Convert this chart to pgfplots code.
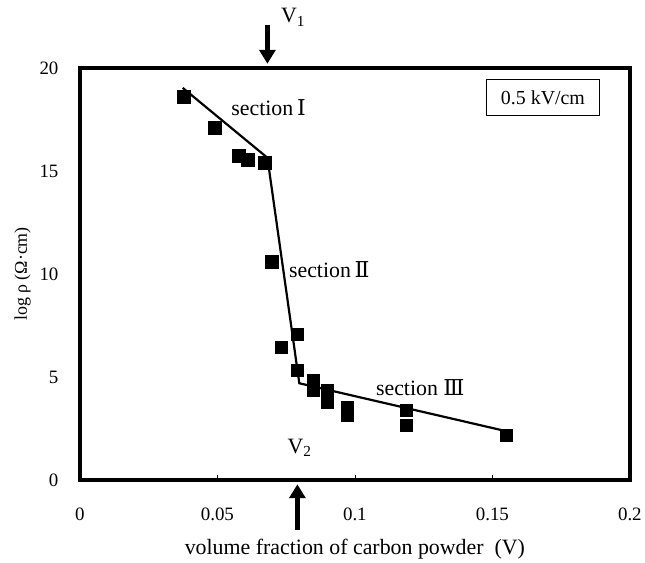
\documentclass[border=0pt]{standalone}
\usepackage{fontspec}
\setmainfont{Liberation Serif}
\newfontfamily\romfont{DejaVu Serif}
\usepackage{pgfplots}
\pgfplotsset{compat=1.18}
\usetikzlibrary{arrows.meta}
\begin{document}
\begin{tikzpicture}
\begin{axis}[
  scale only axis,
  width=551bp, height=413bp,
  xmin=0, xmax=0.2, ymin=0, ymax=20,
  xtick={0,0.05,0.1,0.15,0.2},
  xticklabels={0,0.05,0.1,0.15,0.2},
  ytick={0,5,10,15,20},
  axis line style={line width=3.5pt},
  tick align=inside,
  x tick style={line width=0.6pt, black},
  major tick length=5pt,
  y tick style={draw=none},
  xtick pos=bottom, ytick pos=left,
  tick label style={font=\fontsize{19}{21}\selectfont},
  /pgf/number format/assume math mode=true,
  xticklabel style={yshift=-24pt},
  yticklabel style={xshift=-18pt},
  xlabel={volume fraction of carbon powder\ \ (V)},
  ylabel={log ρ (Ω·cm)},
  xlabel style={font=\fontsize{22}{24}\selectfont, yshift=-12pt},
  ylabel style={font=\fontsize{18}{20}\selectfont, yshift=2pt},
  clip=false,
]
\addplot[black, line width=2.2pt] coordinates {
  (0.0374,19.03) (0.0682,15.64) (0.0798,4.7) (0.1568,2.32)
};
\addplot[only marks, mark=square*, mark size=6.2bp, black] coordinates {
  (0.0377,18.6) (0.049,17.1) (0.0578,15.74) (0.061,15.54) (0.0672,15.4)
  (0.0697,10.6) (0.0791,7.07) (0.0733,6.44) (0.0791,5.33)
  (0.0849,4.84) (0.0849,4.36) (0.09,4.36) (0.09,3.78)
  (0.0973,3.53) (0.0973,3.15) (0.1187,3.39) (0.1187,2.66)
  (0.155,2.18)
};
\draw[-{Triangle[width=16pt,length=14pt]}, line width=5.5pt] (axis cs:0.0682,22.1) -- (axis cs:0.0682,20.2);
\node at (axis cs:0.0775,22.45) {\fontsize{22}{24}\selectfont V\textsubscript{1}};
\draw[-{Triangle[width=16pt,length=14pt]}, line width=5.5pt] (axis cs:0.0791,-2.4) -- (axis cs:0.0791,-0.2);
\node at (axis cs:0.0799,1.55) {\fontsize{22}{24}\selectfont V\textsubscript{2}};
\node at (axis cs:0.0686,18.05) {\fontsize{22}{24}\selectfont section\,{\romfont Ⅰ}};
\node at (axis cs:0.0907,10.2) {\fontsize{22}{24}\selectfont section\,{\romfont Ⅱ}};
\node at (axis cs:0.1238,4.5) {\fontsize{22}{24}\selectfont section {\romfont Ⅲ}};
\node[draw, line width=0.8pt, inner xsep=15pt, inner ysep=11pt] at (axis cs:0.1684,18.55) {\fontsize{20}{22}\selectfont 0.5 kV/cm};
\path ([xshift=-80bp,yshift=-79bp]rel axis cs:0,0) rectangle ([xshift=14bp,yshift=68bp]rel axis cs:1,1);
\end{axis}
\end{tikzpicture}
\end{document}
